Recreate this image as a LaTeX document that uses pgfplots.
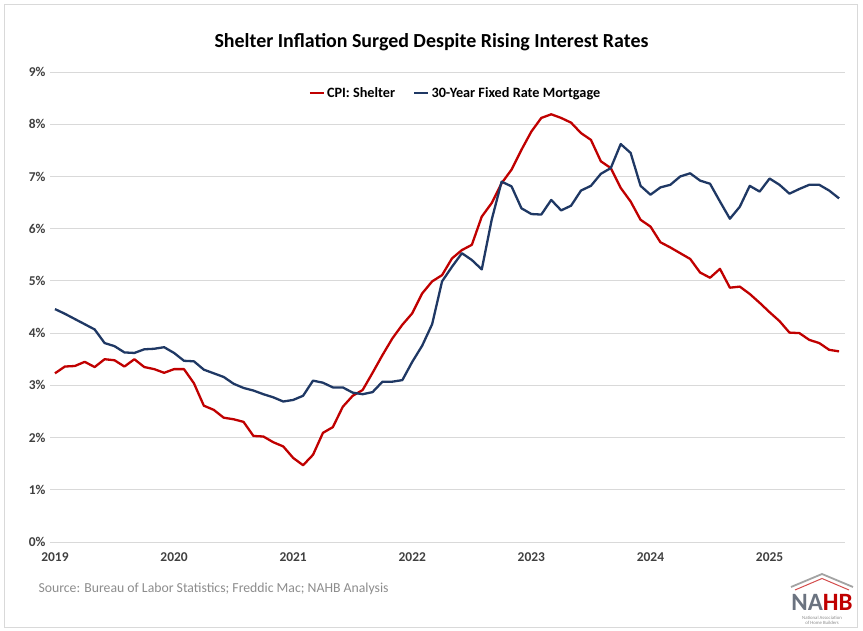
\documentclass[border=0pt]{standalone}
\usepackage{pgfplots}
\usepackage{pgfplotstable}
\pgfplotsset{compat=1.18}
\usepackage{fontspec}
\setmainfont{Carlito}
\definecolor{shelterred}{HTML}{C00000}
\definecolor{mortblue}{HTML}{1F3864}
\definecolor{gridgray}{HTML}{D9D9D9}
\definecolor{srcgray}{HTML}{8C8C8C}
\definecolor{labgray}{HTML}{404040}
\pgfplotstableread{
m shelter mortgage
0 3.23 4.46
1 3.36 4.37
2 3.37 4.27
3 3.45 4.17
4 3.35 4.07
5 3.50 3.81
6 3.48 3.75
7 3.36 3.63
8 3.50 3.62
9 3.35 3.69
10 3.31 3.70
11 3.24 3.73
12 3.31 3.62
13 3.31 3.47
14 3.04 3.46
15 2.61 3.30
16 2.53 3.23
17 2.38 3.16
18 2.35 3.03
19 2.30 2.95
20 2.03 2.90
21 2.02 2.83
22 1.91 2.77
23 1.83 2.69
24 1.61 2.72
25 1.47 2.80
26 1.67 3.09
27 2.09 3.05
28 2.20 2.96
29 2.59 2.96
30 2.80 2.86
31 2.91 2.83
32 3.24 2.87
33 3.58 3.07
34 3.90 3.07
35 4.16 3.10
36 4.38 3.45
37 4.76 3.76
38 4.99 4.17
39 5.11 4.99
40 5.43 5.27
41 5.59 5.53
42 5.69 5.40
43 6.23 5.22
44 6.49 6.17
45 6.87 6.90
46 7.13 6.81
47 7.51 6.39
48 7.86 6.28
49 8.12 6.27
50 8.19 6.55
51 8.12 6.35
52 8.03 6.44
53 7.83 6.73
54 7.70 6.82
55 7.29 7.05
56 7.16 7.16
57 6.78 7.62
58 6.52 7.45
59 6.17 6.82
60 6.04 6.65
61 5.74 6.79
62 5.64 6.84
63 5.53 7.00
64 5.42 7.06
65 5.16 6.92
66 5.06 6.86
67 5.23 6.52
68 4.87 6.19
69 4.89 6.42
70 4.75 6.82
71 4.58 6.71
72 4.40 6.96
73 4.23 6.84
74 4.01 6.67
75 4.00 6.76
76 3.87 6.84
77 3.81 6.84
78 3.68 6.73
79 3.65 6.58
}\datatable
\begin{document}
\begin{tikzpicture}[x=1bp,y=1bp]
\path (0,0) rectangle (863,631);
\draw[gridgray,line width=0.8bp] (4,4) rectangle (857,627);
\node[font=\bfseries\fontsize{20}{24}\selectfont,text=black] at (431.5,589) {Shelter Inflation Surged Despite Rising Interest Rates};
\begin{axis}[
  at={(50bp,89bp)}, anchor=south west,
  scale only axis, width=795bp, height=470bp,
  xmin=-0.5, xmax=79.6, ymin=0, ymax=9,
  axis line style={draw=none},
  major tick length=0pt,
  xtick={0,12,24,36,48,60,72},
  xticklabels={2019,2020,2021,2022,2023,2024,2025},
  ytick={0,1,2,3,4,5,6,7,8,9},
  yticklabels={0\%,1\%,2\%,3\%,4\%,5\%,6\%,7\%,8\%,9\%},
  ymajorgrids, major grid style={gridgray,line width=0.8bp},
  ticklabel style={font=\bfseries\fontsize{13.5}{15}\selectfont,text=labgray},
  xticklabel style={yshift=-7bp},
  yticklabel style={xshift=-1bp},
  legend style={at={(0.51,0.955)},anchor=center,draw=none,fill=none,
    legend columns=2,font=\bfseries\fontsize{14.3}{16}\selectfont,
    /tikz/every even column/.append style={column sep=16bp}},
  legend image code/.code={\draw[#1,line width=2.4bp] (0bp,0bp) -- (14bp,0bp);},
]
\addplot[shelterred,line width=2.3bp,line join=round] table[x=m,y=shelter]{\datatable};
\addlegendentry{CPI: Shelter}
\addplot[mortblue,line width=2.3bp,line join=round] table[x=m,y=mortgage]{\datatable};
\addlegendentry{30-Year Fixed Rate Mortgage}
\end{axis}
\node[anchor=west,font=\fontsize{13.8}{15}\selectfont,text=srcgray] at (35,42) {Source: Bureau of Labor Statistics; Freddic Mac; NAHB Analysis};
% NAHB logo
\draw[srcgray!80,line width=1.8bp] (791,44) -- (822,57) -- (853,44);
\draw[shelterred!70,line width=1bp] (795,41) -- (822,52.5) -- (849,41);
\node[font=\bfseries\fontsize{25}{26}\selectfont,inner sep=0] at (822,29) {\textcolor{srcgray!70!mortblue}{NA}\textcolor{shelterred}{HB}};
\node[font=\fontsize{4.8}{5.4}\selectfont,text=srcgray,align=center,inner sep=0] at (822,10.5) {National Association\\of Home Builders};
\end{tikzpicture}
\end{document}
